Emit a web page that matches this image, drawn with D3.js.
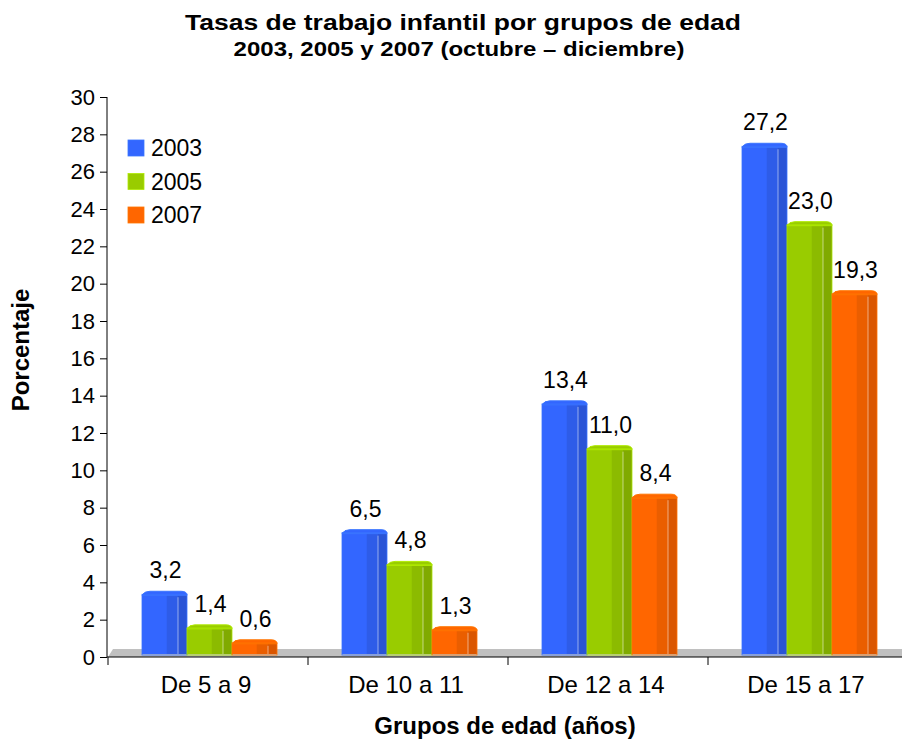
<!DOCTYPE html>
<html><head><meta charset="utf-8">
<script src="https://cdn.jsdelivr.net/npm/d3@7"></script>
<style>body{margin:0;background:#fff}svg{display:block;font-family:"Liberation Sans",Arial,sans-serif}</style>
</head><body>
<svg id="c" width="902" height="740"></svg>
<script>
const categories = ["De 5 a 9", "De 10 a 11", "De 12 a 14", "De 15 a 17"];
const seriesNames = ["2003", "2005", "2007"];
const v2003 = [3.2, 6.5, 13.4, 27.2];
const v2005 = [1.4, 4.8, 11.0, 23.0];
const v2007 = [0.6, 1.3, 8.4, 19.3];
const yTicks = [0,2,4,6,8,10,12,14,16,18,20,22,24,26,28,30];
const colors = ["#3366FF", "#99CC00", "#FF6600"];
const darkColors = ["#2E5CE8", "#8CBB00", "#EA5E00"];
const darker = ["#2A54D6", "#80AA00", "#DA5600"];

const series = [v2003, v2005, v2007];
const svg = d3.select("#c");

const x0 = d3.scaleBand().domain(categories).range([108, 908]).paddingInner(0).paddingOuter(0);
const x1 = d3.scaleBand().domain(seriesNames).range([34, 169]).padding(0);
const y = d3.scaleLinear().domain([0, 30]).range([657, 97]);

// titles (slightly compressed vertically, as in the reference)
svg.append("text").attr("transform", "translate(463,30) scale(1,0.84)").attr("text-anchor","middle")
  .attr("font-weight","bold").attr("font-size", 26.5).text("Tasas de trabajo infantil por grupos de edad");
svg.append("text").attr("transform", "translate(459,56) scale(1,0.84)").attr("text-anchor","middle")
  .attr("font-weight","bold").attr("font-size", 24).text("2003, 2005 y 2007 (octubre – diciembre)");

// floor
svg.append("path").attr("d", `M108,${y(0)} L113,${y(0)-8} L902,${y(0)-8} L902,${y(0)} Z`).attr("fill","#C0C0C0");

// y axis
const yAxis = d3.axisLeft(y).tickValues(yTicks).tickSize(7).tickPadding(5).tickFormat(d3.format("d"));
const ga = svg.append("g").attr("transform","translate(107,0)").call(yAxis);
ga.select(".domain").attr("stroke","#000").attr("d", `M0,${y(30)}V${y(0)}`);
ga.selectAll("text").attr("font-size", 22).attr("fill","#000").attr("font-family","Liberation Sans, Arial, sans-serif");
ga.selectAll(".tick line").attr("stroke","#000");

// x axis
const xa = svg.append("g").attr("transform",`translate(0,${y(0)})`);
xa.append("line").attr("x1",107).attr("x2",902).attr("y1",0).attr("y2",0).attr("stroke","#000");
[0,1,2,3].forEach(i=>{
  const xx = x0(categories[i]);
  xa.append("line").attr("x1",xx).attr("x2",xx).attr("y1",0).attr("y2",8).attr("stroke","#000");
});
categories.forEach(c=>{
  xa.append("text").attr("x", x0(c)+x0.bandwidth()/2 - 2).attr("y", 36).attr("text-anchor","middle")
    .attr("font-size", 24).text(c);
});

// bars
const base = y(0) - 3;
categories.forEach((c, ci) => {
  series.forEach((vals, si) => {
    const v = vals[ci];
    const bx = x0(c) + x1(seriesNames[si]);
    const bw = x1.bandwidth();
    const top = y(v) - 3;
    const g = svg.append("g");
    g.append("rect").attr("x", bx).attr("y", top).attr("width", bw).attr("height", base - top).attr("fill", colors[si]);
    g.append("rect").attr("x", bx + bw*0.55).attr("y", top).attr("width", bw*0.45).attr("height", base - top).attr("fill", darkColors[si]);
    g.append("rect").attr("x", bx + bw*0.8).attr("y", top).attr("width", bw*0.2).attr("height", base - top).attr("fill", darker[si]);
    g.append("line").attr("x1", bx + bw*0.8).attr("x2", bx + bw*0.8).attr("y1", top+3).attr("y2", base).attr("stroke","#fff").attr("stroke-opacity",0.5).attr("stroke-width",1);
    // top cap
    g.append("path").attr("d", `M${bx},${top+1} Q${bx+2},${top-3} ${bx+8},${top-3} L${bx+bw-6},${top-3} Q${bx+bw},${top-3} ${bx+bw},${top+1} Z`)
      .attr("fill", colors[si]).attr("stroke", d3.color(colors[si]).brighter(0.4)).attr("stroke-width",1);
    g.append("rect").attr("x", bx).attr("y", top).attr("width", bw).attr("height", base-top+1).attr("fill","none").attr("stroke", d3.color(colors[si]).brighter(0.3)).attr("stroke-width",0.8);
    svg.append("text").attr("x", bx + bw/2 + 1).attr("y", top - 16).attr("text-anchor","middle").attr("font-size", 23)
      .text(d3.format(".1f")(v).replace(".", ","));
  });
});

// legend
seriesNames.forEach((s, i) => {
  const ly = 140 + i*33.5;
  svg.append("rect").attr("x",128).attr("y",ly).attr("width",16).attr("height",16).attr("fill",colors[i])
    .attr("stroke", d3.color(colors[i]).brighter(0.4)).attr("stroke-width",0.8);
  svg.append("text").attr("x",151).attr("y",ly+16).attr("font-size",23).text(s);
});

// axis titles
svg.append("text").attr("transform","translate(29,350) rotate(-90)").attr("text-anchor","middle")
  .attr("font-weight","bold").attr("font-size",24).text("Porcentaje");
svg.append("text").attr("x",505).attr("y",734).attr("text-anchor","middle")
  .attr("font-weight","bold").attr("font-size",24).text("Grupos de edad (años)");
</script>
</body></html>
